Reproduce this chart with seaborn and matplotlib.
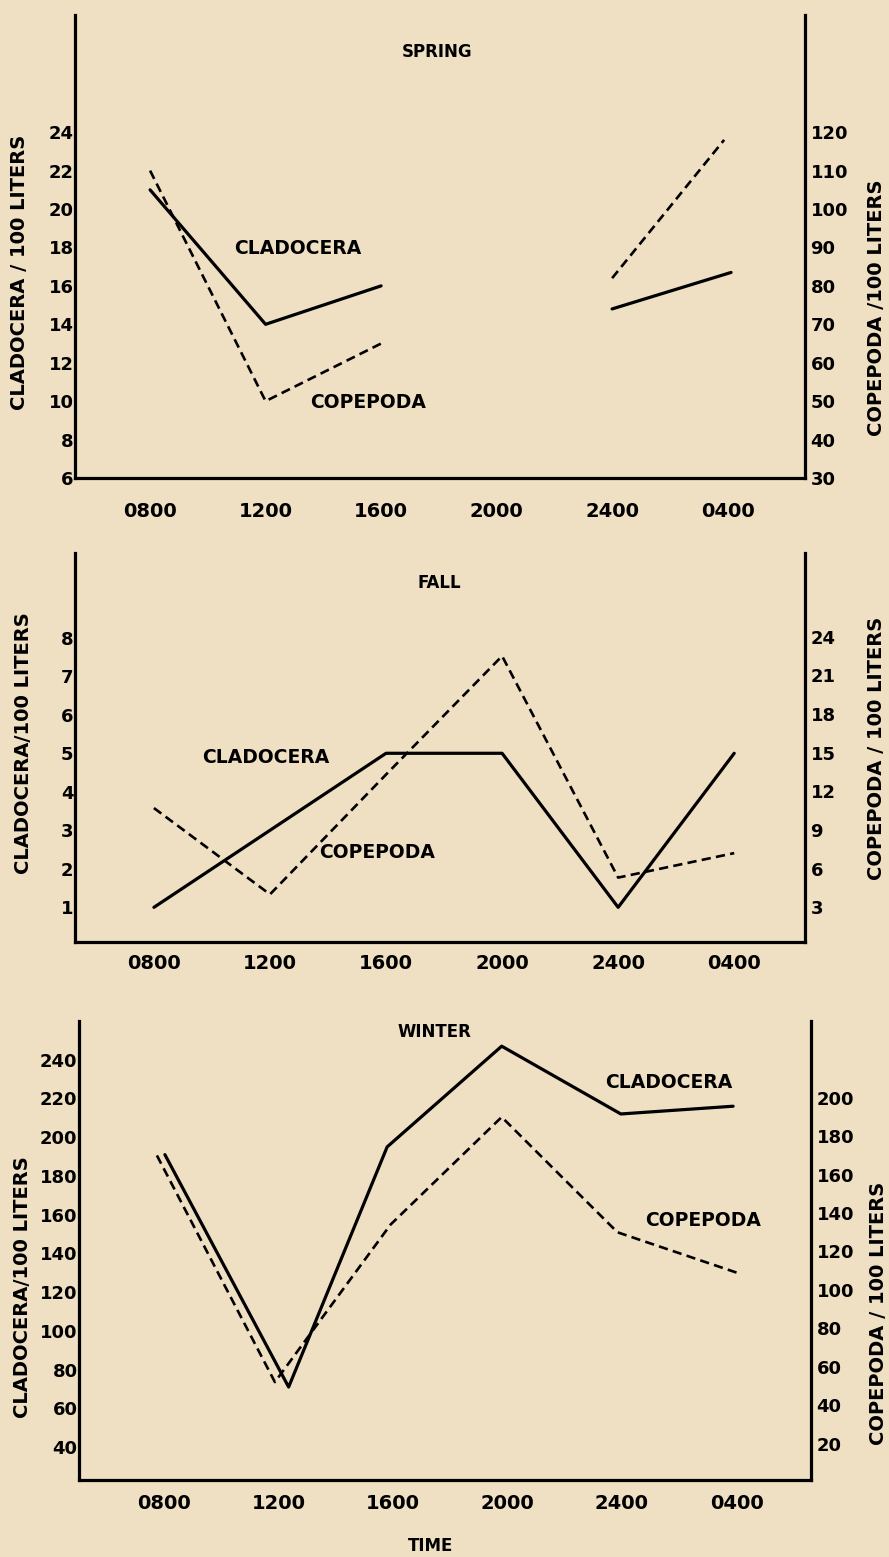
import numpy as np
import pandas as pd
import seaborn as sns
import matplotlib.pyplot as plt

# time of day along the x axis (index positions 0..5)
hours = ['0800', '1200', '1600', '2000', '2400', '0400']

# Spring (no sample at 2000)
spring_clad_x = [0, 1, 2, 3, 4, 5.03]
spring_clad = [21, 14, 16, np.nan, 14.8, 16.7]
spring_cope_x = [0, 1, 2, 3, 4, 4.97]
spring_cope = [110, 50, 65, np.nan, 82, 118]

# Fall
fall_clad_x = [0, 1, 2, 3, 4, 5]
fall_clad = [1, 3, 5, 5, 1, 5]
fall_cope_x = [0, 1, 2, 3, 4, 5]
fall_cope = [10.7, 4, 13.3, 22.5, 5.3, 7.2]

# Winter
winter_clad_x = [0.01, 1.09, 1.95, 2.95, 3.99, 4.97]
winter_clad = [191, 71, 195, 247, 212, 216]
winter_cope_x = [-0.06, 0.97, 1.98, 2.95, 3.96, 5.0]
winter_cope = [170, 52, 134, 190, 130, 109]

seasons = ['SPRING', 'FALL', 'WINTER']

W, H = 889, 1557
BG = '#efdfc3'

sns.set_style('white')
plt.rcParams['font.family'] = ['DejaVu Sans']
plt.rcParams['font.weight'] = 'bold'
plt.rcParams['text.color'] = 'black'
plt.rcParams['xtick.color'] = 'black'
plt.rcParams['ytick.color'] = 'black'
plt.rcParams['axes.labelcolor'] = 'black'


def fx(px):
    return px / W


def fy(py):
    return 1 - py / H


def draw(ax, xs, ys, dashed=False):
    df = pd.DataFrame({'x': xs, 'y': ys})
    df['seg'] = df['y'].isna().cumsum()
    df = df.dropna()
    if dashed:
        sns.lineplot(data=df, x='x', y='y', units='seg', estimator=None, sort=False,
                     ax=ax, color='black', lw=1.9, linestyle=(0, (3.5, 2.0)), legend=False)
    else:
        sns.lineplot(data=df, x='x', y='y', units='seg', estimator=None, sort=False,
                     ax=ax, color='black', lw=2.3, legend=False)
    ax.set_xlabel('')
    ax.set_ylabel('')


def panel(box, xlim, ylim_l, ylim_r, ticks_l, ticks_r, clad, cope, xpad):
    l, r, t, b = box
    ax = fig.add_axes([fx(l), fy(b), fx(r) - fx(l), fy(t) - fy(b)])
    axr = ax.twinx()
    draw(ax, clad[0], clad[1])
    draw(axr, cope[0], cope[1], dashed=True)
    ax.set_xlim(*xlim)
    ax.set_ylim(*ylim_l)
    axr.set_ylim(*ylim_r)
    ax.set_xticks(range(len(hours)))
    ax.set_xticklabels(hours)
    ax.set_yticks(ticks_l)
    axr.set_yticks(ticks_r)
    ax.tick_params(axis='x', length=0, pad=xpad, labelsize=14, labelcolor='black')
    ax.tick_params(axis='y', length=0, pad=1, labelsize=13, labelcolor='black')
    axr.tick_params(axis='y', length=0, pad=4, labelsize=13, labelcolor='black')
    for a in (ax, axr):
        a.set_facecolor('none')
        for s in a.spines.values():
            s.set_visible(False)
            s.set_linewidth(2.3)
            s.set_color('black')
    ax.spines['left'].set_visible(True)
    ax.spines['bottom'].set_visible(True)
    axr.spines['right'].set_visible(True)
    axr.set_ylabel('')
    return ax, axr


fig = plt.figure(figsize=(W / 100, H / 100), dpi=100, facecolor=BG)

# Spring
panel((75, 805, 15, 478), (-0.65, 5.67), (6, 30.1), (30, 150.5),
      range(6, 25, 2), range(30, 121, 10),
      (spring_clad_x, spring_clad), (spring_cope_x, spring_cope), 17)
# Fall
panel((75, 805, 553, 942), (-0.68, 5.61), (0.1, 10.2), (0.3, 30.5),
      range(1, 9), range(3, 25, 3),
      (fall_clad_x, fall_clad), (fall_cope_x, fall_cope), 9)
# Winter
panel((79, 811, 1021, 1480), (-0.74, 5.65), (23, 260), (1, 240),
      range(40, 241, 20), range(20, 201, 20),
      (winter_clad_x, winter_clad), (winter_cope_x, winter_cope), 10)

# season titles
for name, (px, py) in zip(seasons, [(437, 52), (439, 583), (434, 1032)]):
    fig.text(fx(px), fy(py), name, ha='center', va='center', fontsize=12,
             fontweight='bold', color='black')

# curve labels
curve_labels = [('CLADOCERA', 298, 248), ('COPEPODA', 368, 402),
                ('CLADOCERA', 266, 758), ('COPEPODA', 377, 853),
                ('CLADOCERA', 669, 1082), ('COPEPODA', 703, 1221)]
for txt, px, py in curve_labels:
    fig.text(fx(px), fy(py), txt, ha='center', va='center', fontsize=13.5,
             fontweight='bold', color='black')

# axis titles
left_titles = [('CLADOCERA / 100 LITERS', 20, 272), ('CLADOCERA/100 LITERS', 24, 743),
               ('CLADOCERA/100 LITERS', 23, 1287)]
right_titles = [('COPEPODA /100 LITERS', 876, 308), ('COPEPODA / 100 LITERS', 876, 748),
                ('COPEPODA / 100 LITERS', 878, 1313)]
for txt, px, py in left_titles + right_titles:
    fig.text(fx(px), fy(py), txt, ha='center', va='center', rotation=90,
             fontsize=14, fontweight='bold', color='black')

fig.text(fx(431), fy(1546), 'TIME', ha='center', va='center', fontsize=12,
         fontweight='bold', color='black')

fig.savefig('out.png', dpi=100, facecolor=BG)
